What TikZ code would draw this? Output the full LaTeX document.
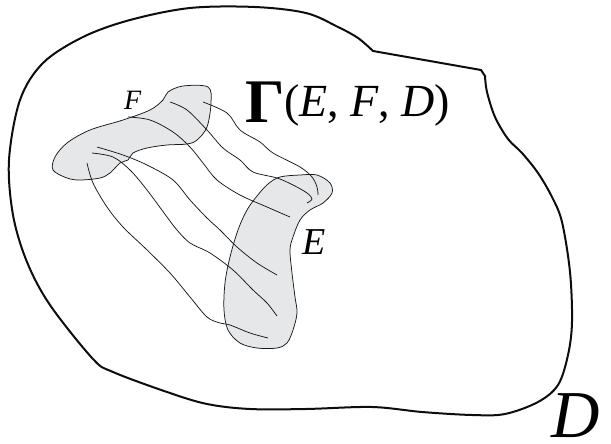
\documentclass[tikz,border=0pt]{standalone}
\usepackage{fontspec}
\setmainfont{Liberation Serif}
\definecolor{blobgray}{HTML}{E6E7E8}
\begin{document}
\begin{tikzpicture}[x=1pt,y=-1pt,
  outline/.style={line width=2pt, black!95, line join=round},
  blob/.style={fill=blobgray, draw=black!90, line width=0.75pt},
  fibre/.style={draw=black!90, line width=0.75pt},
  lbl/.style={inner sep=0pt, anchor=base west}]
\useasboundingbox (0,0) rectangle (611,444);
% domain D
\draw[outline] plot[smooth, tension=0.55] coordinates {
 (485,76) (487,92) (495,117) (508,139) (522,153) (538,173) (552,197) (562,222)
 (570,272) (572,322) (568,355) (558,385) (538,402) (505,414) (472,415) (422,412)
 (372,407) (306,409) (250,409) (207,404) (167,392) (113,372) (93,359) (50,305)
 (27,262) (13,215) (9,160) (20,100) (43,63) (83,37) (130,20) (190,8) (255,7) (306,13)
 (338,27) (358,38) (373,51)} -- (481,70) -- cycle;
% set F
\draw[blob] plot[smooth cycle, tension=0.55] coordinates {
 (168,92) (183,86) (208,87) (211,103) (207,127) (197,140) (187,144) (167,145)
 (147,148) (133,153) (128,160) (120,163) (110,173) (100,178) (80,180) (67,178)
 (53,170) (55,157) (67,143) (90,130) (123,120) (150,110) (163,100)};
% set E
\draw[blob] plot[smooth cycle, tension=0.55] coordinates {
 (280,177) (300,175) (317,175) (330,183) (332,193) (323,203) (310,210) (300,220)
 (293,237) (290,250) (292,273) (295,297) (297,313) (293,330) (287,343) (277,348)
 (257,348) (240,343) (228,330) (224,310) (225,283) (230,257) (238,230) (247,210)
 (257,196) (268,184)};
% curves of Gamma(E,F,D)
\draw[fibre] plot[smooth, tension=0.55] coordinates {
 (203,102) (227,113) (240,130) (260,142) (273,153) (300,167) (312,177) (317,187) (318,195)};
\draw[fibre] plot[smooth, tension=0.55] coordinates {
 (170,102) (187,110) (207,130) (223,148) (240,160) (253,172) (277,178) (293,185) (307,193) (312,199) (307,203)};
\draw[fibre] plot[smooth, tension=0.55] coordinates {
 (128,117) (150,120) (173,132) (190,147) (203,163) (217,180) (240,195) (267,207) (290,217)};
\draw[fibre] plot[smooth, tension=0.55] coordinates {
 (97,147) (123,155) (147,165) (173,180) (190,200) (207,218) (220,230) (237,247) (257,263) (277,275)};
\draw[fibre] plot[smooth, tension=0.55] coordinates {
 (92,153) (113,157) (130,170) (147,190) (167,217) (177,230) (190,243) (210,253) (233,270) (253,290) (267,303) (277,316)};
\draw[fibre] plot[smooth, tension=0.55] coordinates {
 (87,163) (93,183) (107,207) (123,227) (145,248) (170,273) (190,297) (207,317) (220,323) (230,325) (250,333) (268,338)};
% labels
\node[lbl, font=\fontsize{28}{28}\selectfont\itshape] (labF) at (124,110) {F};
\node[lbl, font=\fontsize{62}{62}\selectfont\bfseries] (gam) at (245,123) {Γ};
\node[lbl, font=\fontsize{46}{46}\selectfont] (args) at (284,117) {(\textit{E}, \textit{F}, \textit{D})};
\node[lbl, font=\fontsize{38}{38}\selectfont\itshape] (labE) at (302,254) {E};
\node[lbl, font=\fontsize{67}{67}\selectfont\itshape] (labD) at (551,437) {D};
\end{tikzpicture}
\end{document}
